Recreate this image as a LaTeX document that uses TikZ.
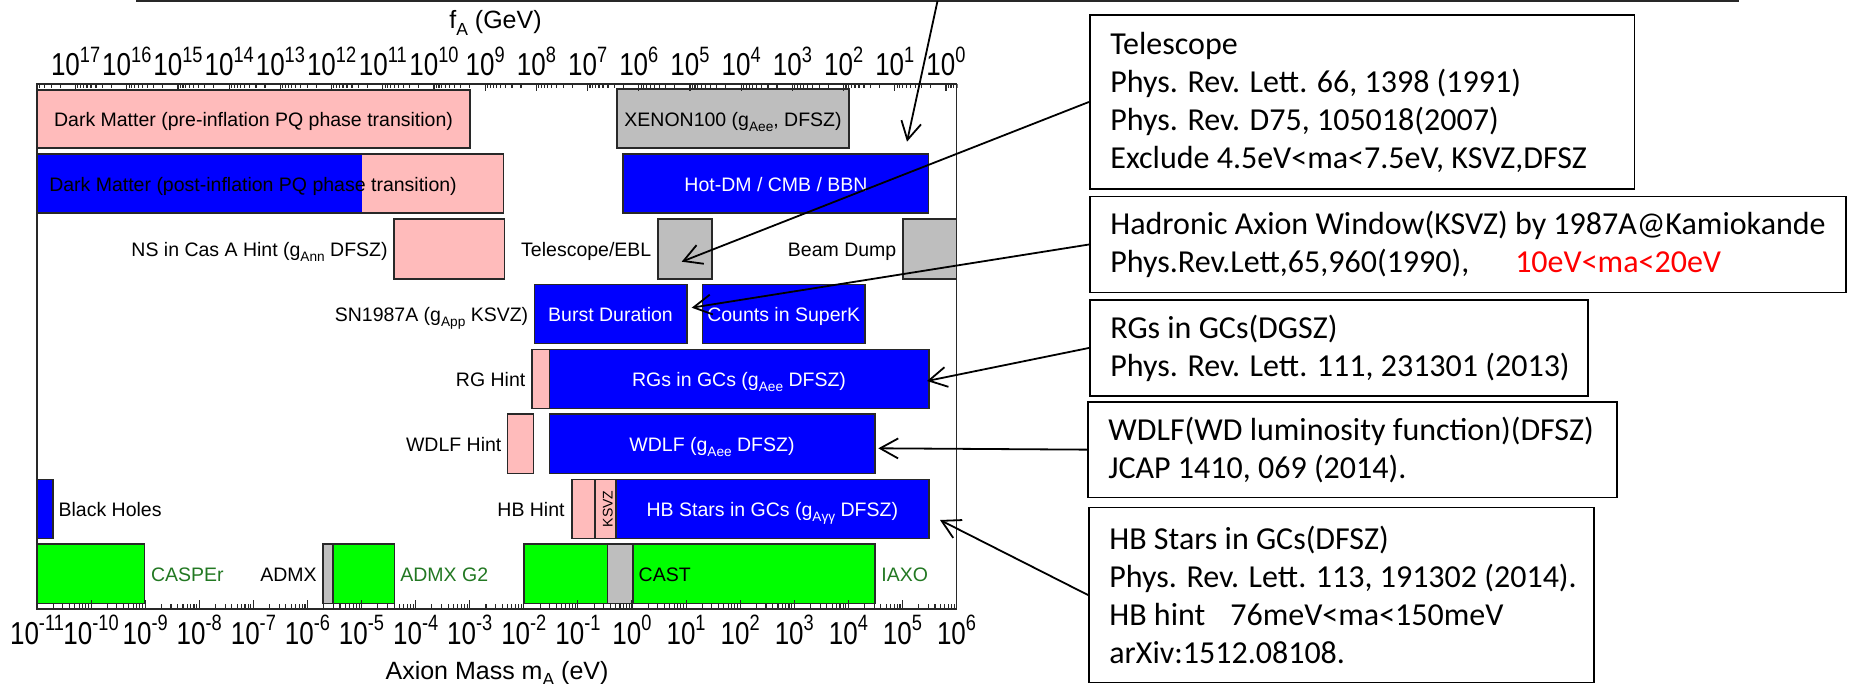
\documentclass[tikz,border=0pt]{standalone}
\usepackage{fontspec}
\setmainfont{Liberation Sans}
\newfontfamily\calib{Carlito}
\usepackage{graphicx}
\usetikzlibrary{arrows.meta}
\definecolor{pinkc}{RGB}{255,187,187}
\definecolor{bluec}{RGB}{0,0,255}
\definecolor{grayc}{RGB}{190,190,190}
\definecolor{greenc}{RGB}{0,255,0}
\definecolor{dkgreen}{RGB}{34,120,34}
\definecolor{edgec}{RGB}{40,40,40}
\newcommand{\mysup}[1]{\raisebox{0.42em}{\scalebox{0.7}{#1}}}
\newcommand{\mysub}[1]{\raisebox{-0.25em}{\scalebox{0.7}{#1}}}
\newcommand{\tenp}[1]{\scalebox{1}[1.22]{10\mysup{#1}}}
\begin{document}
\begin{tikzpicture}[x=0.5pt,y=-0.5pt,
  bx/.style={draw=edgec,line width=0.8pt},
  lbl/.style={inner sep=0pt,text height=0.72em,text depth=0pt,font=\fontsize{9.75pt}{11pt}\selectfont},
  wl/.style={lbl,text=white},
  gl/.style={lbl,text=dkgreen},
  tick/.style={draw=edgec,line width=0.55pt},
  axl/.style={inner sep=0pt,font=\fontsize{13pt}{15pt}\selectfont},
  ttl/.style={inner sep=0pt,font=\fontsize{12.5pt}{15pt}\selectfont},
  rbox/.style={draw=black,line width=0.8pt,inner sep=0pt,anchor=north west},
  rtext/.style={inner sep=0pt,anchor=west,align=left,font=\calib\fontsize{16pt}{19pt}\selectfont},
  arr/.style={draw=black,line width=0.9pt,-{Straight Barb[length=9pt,width=10pt]}},
]
\useasboundingbox (0,0) rectangle (1856,684);
\fill[white] (0,0) rectangle (1856,684);

% top connector line
\coordinate (topL) at (136,1);
\coordinate (topR) at (1739,1);
\coordinate (topA) at (937.5,1);
\draw[edgec,line width=0.8pt] (topL) -- (topR);

% ---- boxes of the plot
% row 1
\filldraw[bx,fill=pinkc] (37,90) rectangle (470,148.3);
\filldraw[bx,fill=grayc] (617,89.3) rectangle (849,148.3);
% row 2
\fill[bluec] (37,154.3) rectangle (362,213.3);
\fill[pinkc] (362,154.3) rectangle (503.6,213.3);
\draw[bx] (37,154.3) rectangle (503.6,213.3);
\filldraw[bx,fill=bluec] (623,154.3) rectangle (928.6,213.3);
% row 3
\filldraw[bx,fill=pinkc] (394,219.3) rectangle (504.6,278.7);
\filldraw[bx,fill=grayc] (658,219.3) rectangle (712,278.7);
\filldraw[bx,fill=grayc] (902.7,219.3) rectangle (956.5,278.7);
% row 4
\filldraw[bx,fill=bluec] (534.3,284.3) rectangle (686.7,343.3);
\filldraw[bx,fill=bluec] (702.3,284.3) rectangle (865,343.3);
% row 5
\filldraw[bx,fill=pinkc] (532,349.3) rectangle (549.3,408.3);
\filldraw[bx,fill=bluec] (549.3,349.3) rectangle (929,408.3);
% row 6
\filldraw[bx,fill=pinkc] (507.3,414) rectangle (533.3,473.3);
\filldraw[bx,fill=bluec] (549.3,414) rectangle (875,473.3);
% row 7
\filldraw[bx,fill=bluec] (37,479.3) rectangle (52.9,538.3);
\filldraw[bx,fill=pinkc] (571.7,479.3) rectangle (595,538.3);
\filldraw[bx,fill=pinkc] (595,479.3) rectangle (615.7,538.3);
\filldraw[bx,fill=bluec] (615.7,479.3) rectangle (929,538.3);
% row 8
\filldraw[bx,fill=greenc] (37,544) rectangle (144.6,603.3);
\filldraw[bx,fill=grayc] (323.2,544) rectangle (332.9,603.3);
\filldraw[bx,fill=greenc] (332.9,544) rectangle (394.3,603.3);
\filldraw[bx,fill=greenc] (524,544) rectangle (607.3,603.3);
\filldraw[bx,fill=grayc] (607.3,544) rectangle (632.7,603.3);
\filldraw[bx,fill=greenc] (632.7,544) rectangle (875,603.3);

% ---- frame and ticks
\draw[edgec,line width=0.8pt] (37,84) rectangle (956.5,608.7);
\foreach \e in {-11,...,5}{\foreach \k in {2,...,9}{
  \draw[tick] ({37+(\e+11+log10(\k))*54.09},608.7) -- ++(0,-4.5);}}
\foreach \e in {-11,...,6}{
  \draw[tick] ({37+(\e+11)*54.09},608.7) -- ++(0,-9);
  \node[axl,anchor=base] (bl\e) at ({37+(\e+11)*54.09},644) {\tenp{\e}};}
\begin{scope}
\clip (36,80) rectangle (957.5,100);
\foreach \n in {-1,...,17}{\foreach \k in {2,...,9}{
  \draw[tick] ({946-51.2*(\n+log10(\k))},84) -- ++(0,4.5);}}
\end{scope}
\foreach \n in {0,...,17}{
  \draw[tick] ({946-51.2*\n},84) -- ++(0,7);
  \node[axl,anchor=base] (tl\n) at ({946-51.2*\n},76) {\tenp{\n}};}
\node[ttl,anchor=base] (ftitle) at (495.5,29) {f\mysub{A} (GeV)};
\node[ttl,anchor=base] (mtitle) at (497,679) {Axion Mass m\mysub{A} (eV)};

% ---- labels
\node[lbl] (l1) at (253.5,119) {Dark Matter (pre-inflation PQ phase transition)};
\node[lbl] (l2) at (733,119) {XENON100 (g\mysub{Aee}, DFSZ)};
\node[lbl] (l3) at (253,184) {Dark Matter (post-inflation PQ phase transition)};
\node[wl] (l4) at (776,184) {Hot-DM / CMB / BBN};
\node[lbl,anchor=east] (l5) at (388,249) {NS in Cas A Hint (g\mysub{Ann} DFSZ)};
\node[lbl,anchor=east] (l6) at (651.7,249) {Telescope/EBL};
\node[lbl,anchor=east] (l7) at (896.7,249) {Beam Dump};
\node[lbl,anchor=east] (l8) at (528.6,314) {SN1987A (g\mysub{App} KSVZ)};
\node[wl] (l9) at (610.5,314) {Burst Duration};
\node[wl] (l10) at (783.7,314) {Counts in SuperK};
\node[lbl,anchor=east] (l11) at (525.7,379) {RG Hint};
\node[wl] (l12) at (739,379) {RGs in GCs (g\mysub{Aee} DFSZ)};
\node[lbl,anchor=east] (l13) at (501.8,444) {WDLF Hint};
\node[wl] (l14) at (712,444) {WDLF (g\mysub{Aee} DFSZ)};
\node[lbl,anchor=west] (l15) at (58.2,509) {Black Holes};
\node[lbl,anchor=east] (l16) at (565,509) {HB Hint};
\node[lbl,rotate=90,font=\fontsize{7pt}{8pt}\selectfont] (l16b) at (605.3,508.8) {KSVZ};
\node[wl] (l17) at (772.3,509) {HB Stars in GCs (g\mysub{Aγγ} DFSZ)};
\node[gl,anchor=west] (l18) at (150.7,574) {CASPEr};
\node[lbl,anchor=east] (l19) at (317,574) {ADMX};
\node[gl,anchor=west] (l20) at (400,574) {ADMX G2};
\node[lbl,anchor=west] (l21) at (638.3,574) {CAST};
\node[gl,anchor=west] (l22) at (881,574) {IAXO};

% ---- reference boxes
\node[rbox,minimum width=272.35pt,minimum height=86.85pt] (tel) at (1089,14.3) {};
\node[rtext] (telt) at ([xshift=10.5pt]tel.west) {Telescope\\Phys. Rev. Lett. 66, 1398 (1991)\\Phys. Rev. D75, 105018(2007)\\Exclude 4.5eV<ma<7.5eV, KSVZ,DFSZ};
\node[rbox,minimum width=378pt,minimum height=48pt] (had) at (1089,195.7) {};
\node[rtext] (hadt) at ([xshift=10.5pt]had.west) {Hadronic Axion Window(KSVZ) by 1987A@Kamiokande\\Phys.Rev.Lett,65,960(1990),\hspace{23pt}\textcolor{red}{10eV<ma<20eV}};
\node[rbox,minimum width=249pt,minimum height=47.85pt] (rgs) at (1089,299.3) {};
\node[rtext] (rgst) at ([xshift=10.5pt]rgs.west) {RGs in GCs(DGSZ)\\Phys. Rev. Lett. 111, 231301 (2013)};
\node[rbox,minimum width=264.5pt,minimum height=47.85pt] (wd) at (1087,401) {};
\node[rtext] (wdt) at ([xshift=10.5pt]wd.west) {WDLF(WD luminosity function)(DFSZ)\\JCAP 1410, 069 (2014).};
\node[rbox,minimum width=252.5pt,minimum height=87.5pt] (hb) at (1088,506.7) {};
\node[rtext] (hbt) at ([xshift=10.5pt]hb.west) {HB Stars in GCs(DFSZ)\\Phys. Rev. Lett. 113, 191302 (2014).\\HB hint\hspace{12.5pt}76meV<ma<150meV\\arXiv:1512.08108.};

% ---- arrows
\coordinate (tTop) at (907,141.7);
\coordinate (tTel) at (681.7,261.7);
\coordinate (tHad) at (691.7,307.7);
\coordinate (tRG) at (927,381);
\coordinate (tWD) at (878.3,448.3);
\coordinate (tHB) at (940,520);
\draw[arr] (topA) -- (tTop);
\draw[arr] (tel.west) -- (tTel);
\draw[arr] (had.west) -- (tHad);
\draw[arr] (rgs.west) -- (tRG);
\draw[arr] (wd.west) -- (tWD);
\draw[arr] (hb.west) -- (tHB);
\end{tikzpicture}
\end{document}
